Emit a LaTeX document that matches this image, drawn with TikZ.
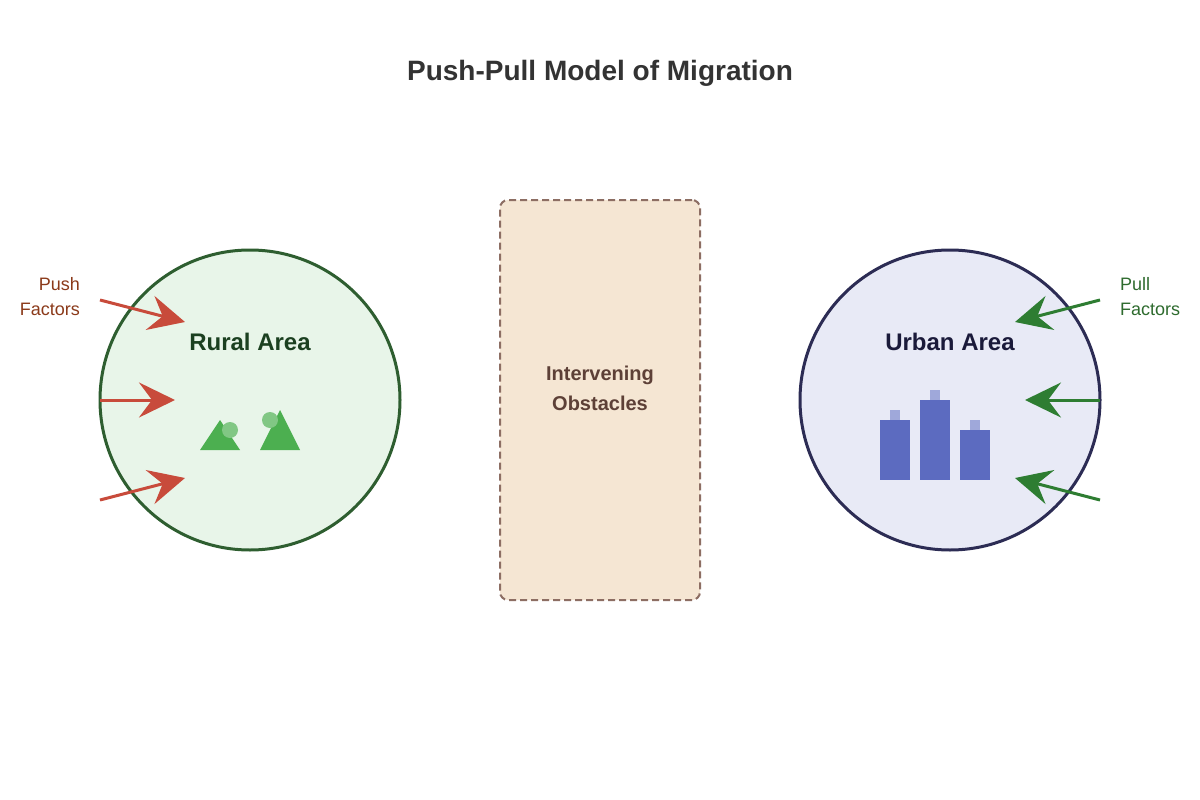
\documentclass[tikz,border=0pt]{standalone}
\usepackage{fontspec}
\setmainfont{Liberation Sans}
\usetikzlibrary{arrows.meta}
\definecolor{titlec}{HTML}{333333}
\definecolor{ruralfill}{HTML}{E8F5E9}
\definecolor{ruraldraw}{HTML}{2E5E30}
\definecolor{ruraltext}{HTML}{1B4020}
\definecolor{urbanfill}{HTML}{E8EAF6}
\definecolor{urbandraw}{HTML}{2C2C54}
\definecolor{urbantext}{HTML}{1A1A3A}
\definecolor{obsfill}{HTML}{F5E6D3}
\definecolor{obsdraw}{HTML}{8D6E63}
\definecolor{obstext}{HTML}{5D4037}
\definecolor{pushc}{HTML}{C84B3B}
\definecolor{pushtext}{HTML}{8B3A1A}
\definecolor{pullc}{HTML}{2E7D32}
\definecolor{pulltext}{HTML}{2E6B2E}
\definecolor{mtn}{HTML}{4CAF50}
\definecolor{mtnlight}{HTML}{81C784}
\definecolor{bld}{HTML}{5C6BC0}
\definecolor{bldlight}{HTML}{9FA8DA}
\begin{document}
\begin{tikzpicture}[x=1pt,y=-1pt,
  area/.style={circle,minimum size=300pt,inner sep=0pt,line width=3pt},
  arealabel/.style={font=\fontsize{24}{28}\selectfont\bfseries},
  factor/.style={font=\fontsize{18}{25}\selectfont,inner sep=0pt},
  pusharrow/.style={draw=pushc,line width=3pt,-{Stealth[length=36pt,width=35pt,inset=13pt,fill=pushc]}},
  pullarrow/.style={draw=pullc,line width=3pt,-{Stealth[length=36pt,width=35pt,inset=13pt,fill=pullc]}}]
\useasboundingbox (0,0) rectangle (1200,800);
\fill[white] (0,0) rectangle (1200,800);
\node[font=\fontsize{28}{32}\selectfont\bfseries,text=titlec] (title) at (600,73) {Push-Pull Model of Migration};
% areas
\node[area,fill=ruralfill,draw=ruraldraw] (rural) at (250,400) {};
\node[area,fill=urbanfill,draw=urbandraw] (urban) at (950,400) {};
% obstacles
\node[draw=obsdraw,fill=obsfill,line width=2pt,dash pattern=on 7pt off 4pt,rounded corners=8pt,minimum width=200pt,minimum height=400pt,inner sep=0pt] (obs) at (600,400) {};
\node[font=\fontsize{20}{30}\selectfont\bfseries,text=obstext,align=center] (obslabel) at (600,388) {Intervening\\Obstacles};
% labels
\node[arealabel,text=ruraltext] (rurallabel) at (250,342) {Rural Area};
\node[arealabel,text=urbantext] (urbanlabel) at (950,342) {Urban Area};
\node[factor,text=pushtext,anchor=east,align=right] (push) at (80,297) {Push\\Factors};
\node[factor,text=pulltext,anchor=west,align=left] (pull) at (1120,297) {Pull\\Factors};
% mountains
\fill[mtn] (200,450) -- (220,420) -- (240,450) -- cycle;
\fill[mtn] (260,450) -- (280,410) -- (300,450) -- cycle;
\fill[mtnlight] (230,430) circle (8pt);
\fill[mtnlight] (270,420) circle (8pt);
% buildings
\fill[bld] (880,420) rectangle (910,480);
\fill[bld] (920,400) rectangle (950,480);
\fill[bld] (960,430) rectangle (990,480);
\fill[bldlight] (890,410) rectangle (900,420);
\fill[bldlight] (930,390) rectangle (940,400);
\fill[bldlight] (970,420) rectangle (980,430);
% arrow coordinates
\coordinate (ps1) at (100,300); \coordinate (pe1) at (185,322);
\coordinate (ps2) at (100,400); \coordinate (pe2) at (175,400);
\coordinate (ps3) at (100,500); \coordinate (pe3) at (185,478);
\coordinate (qs1) at (1100,300); \coordinate (qe1) at (1015,322);
\coordinate (qs2) at (1100,400); \coordinate (qe2) at (1025,400);
\coordinate (qs3) at (1100,500); \coordinate (qe3) at (1015,478);
\draw[pusharrow] (ps1) -- (pe1);
\draw[pusharrow] (ps2) -- (pe2);
\draw[pusharrow] (ps3) -- (pe3);
\draw[pullarrow] (qs1) -- (qe1);
\draw[pullarrow] (qs2) -- (qe2);
\draw[pullarrow] (qs3) -- (qe3);
\end{tikzpicture}
\end{document}
